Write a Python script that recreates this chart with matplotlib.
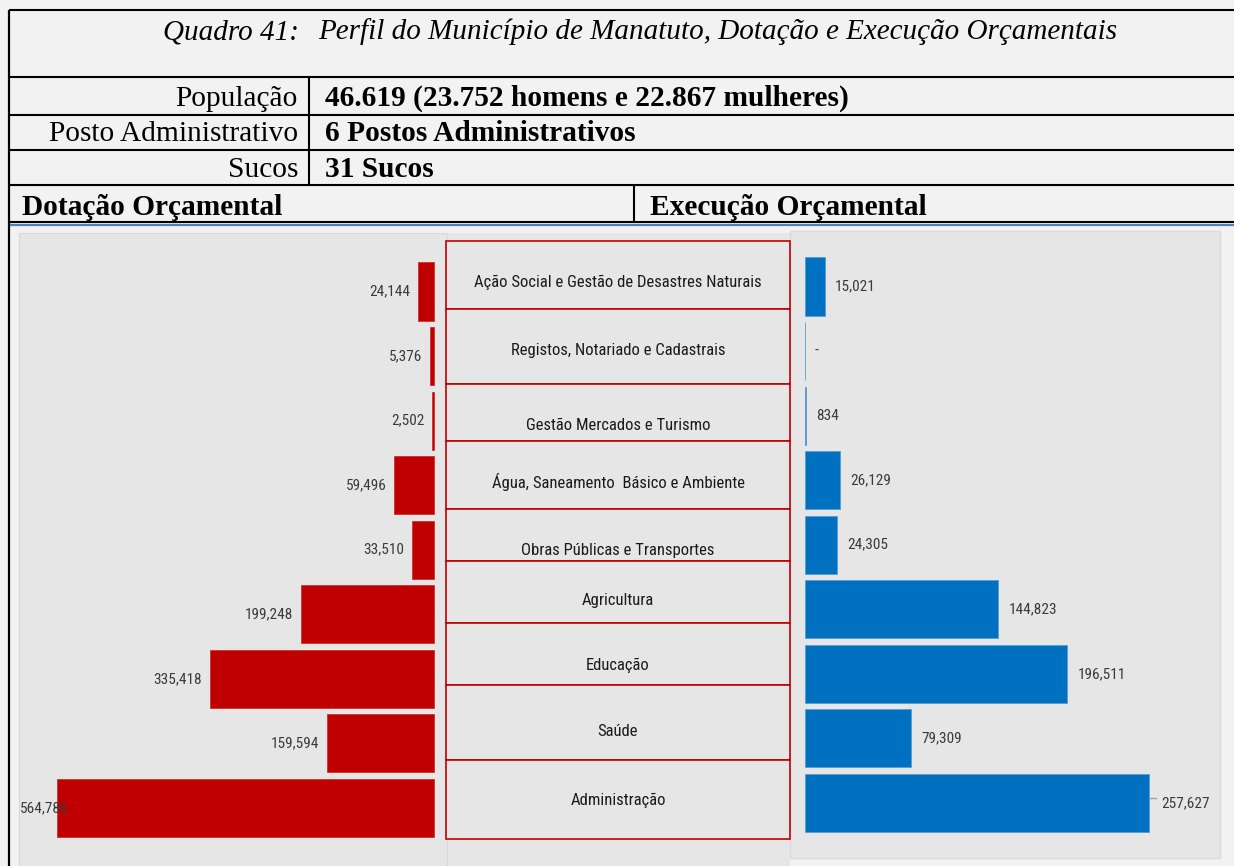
import matplotlib
matplotlib.use("Agg")
import matplotlib.pyplot as plt
from matplotlib.lines import Line2D
from matplotlib.patches import Rectangle
from matplotlib import font_manager as fm

# ---------------- data ----------------
categories = [
    "Ação Social e Gestão de Desastres Naturais",
    "Registos, Notariado e Cadastrais",
    "Gestão Mercados e Turismo",
    "Água, Saneamento  Básico e Ambiente",
    "Obras Públicas e Transportes",
    "Agricultura",
    "Educação",
    "Saúde",
    "Administração",
]
dotacao = [24144, 5376, 2502, 59496, 33510, 199248, 335418, 159594, 564786]
execucao = [15021, 0, 834, 26129, 24305, 144823, 196511, 79309, 257627]

title_num = "Quadro 41:"
title_txt = "Perfil do Município de Manatuto, Dotação e Execução Orçamentais"
row_labels = ["População", "Posto Administrativo", "Sucos"]
row_values = ["46.619 (23.752 homens e 22.867 mulheres)",
              "6 Postos Administrativos", "31 Sucos"]
left_header = "Dotação Orçamental"
right_header = "Execução Orçamental"

# ---------------- fonts ----------------
names = {f.name for f in fm.fontManager.ttflist}
narrow_kw = {}
for cand in ["Liberation Sans Narrow", "Arial Narrow", "Roboto Condensed",
             "Open Sans Condensed"]:
    if cand in names:
        narrow_kw = {"family": cand}
        break
if not narrow_kw:
    cond = [f for f in fm.fontManager.ttflist
            if f.name == "DejaVu Sans" and str(f.stretch) in ("condensed", "semi-condensed")]
    narrow_kw = {"family": "DejaVu Sans"}
    if cond:
        narrow_kw["fontstretch"] = "condensed"
serif = "Liberation Serif" if "Liberation Serif" in names else "DejaVu Serif"

# ---------------- layout helpers ----------------
W, H = 1234, 866
fig = plt.figure(figsize=(W / 100, H / 100), dpi=100, facecolor="#f2f2f2")


def fx(x):
    return x / W


def fy(y):
    return 1 - y / H


def hline(y, x0, x1, lw=1.5, color="black"):
    fig.add_artist(Line2D([fx(x0), fx(x1)], [fy(y), fy(y)], lw=lw, color=color,
                          solid_capstyle="butt"))


def vline(x, y0, y1, lw=1.5, color="black"):
    fig.add_artist(Line2D([fx(x), fx(x)], [fy(y0), fy(y1)], lw=lw, color=color,
                          solid_capstyle="butt"))


def ftext(x, y, s, **kw):
    fig.text(fx(x), fy(y), s, **kw)


# ---------------- table part ----------------
for y in [10, 77, 115, 150, 185, 222]:
    hline(y, 9, W)
hline(224.5, 9, W, lw=1.6, color="#4f81bd")
vline(9, 10, H, lw=1.6)
vline(309, 77, 185)
vline(634, 185, 222)

TS = 21.2
ftext(163, 39, title_num, fontsize=21.0, family=serif, style="italic", va="baseline")
ftext(318, 39, title_txt, fontsize=21.0, family=serif, style="italic", va="baseline")
for lab, val, yb in zip(row_labels, row_values, [106, 141, 177]):
    ftext(298, yb, lab, fontsize=TS, family=serif, ha="right", va="baseline")
    ftext(325, yb, val, fontsize=TS, family=serif, weight="bold", va="baseline")
ftext(22, 215, left_header, fontsize=TS, family=serif, weight="bold", va="baseline")
ftext(650, 215, right_header, fontsize=TS, family=serif, weight="bold", va="baseline")

# ---------------- chart backgrounds ----------------
PANEL = "#e6e6e6"
fig.add_artist(Rectangle((fx(19), fy(H)), fx(790 - 19), (H - 233) / H,
                         transform=fig.transFigure, facecolor=PANEL,
                         edgecolor="none", zorder=0))
fig.add_artist(Rectangle((fx(790), fy(858)), fx(1220 - 790), (858 - 231) / H,
                         transform=fig.transFigure, facecolor=PANEL,
                         edgecolor="#dadada", lw=1, zorder=0))
vline(19, 233, H, lw=0.8, color="#d8d8d8")
hline(233, 19, 447, lw=0.8, color="#d8d8d8")
vline(447, 233, H, lw=0.8, color="#d8d8d8")

RED = "#c00000"
BLUE = "#0070c0"
LABC = "#3a3a3a"
LFS = 11

# ---------------- left (Dotação) bars ----------------
axL_x0, axL_x1, axL_y0, axL_y1 = 19, 447, 233, 866
baseL, maxL_px = 434, 57
uppL = max(dotacao) / (baseL - maxL_px)
row0L, pitch = 291.5, 64.56
axL = fig.add_axes([fx(axL_x0), fy(axL_y1), fx(axL_x1 - axL_x0), (axL_y1 - axL_y0) / H])
axL.set_xlim((baseL - axL_x0) * uppL, -(axL_x1 - baseL) * uppL)
axL.set_ylim((axL_y1 - row0L) / pitch, (axL_y0 - row0L) / pitch)
ypos = list(range(len(categories)))
axL.barh(ypos, dotacao, height=0.9, color=RED, edgecolor="#d03030", lw=0.6)
xmaxL = axL.get_xlim()[0]
for yv, v in zip(ypos, dotacao):
    xt = v + 8 * uppL
    if xt + 45 * uppL > xmaxL:
        axL.text(xmaxL - 1 * uppL, yv, f"{v:,}", ha="left", va="center",
                 fontsize=LFS, color=LABC, zorder=5, **narrow_kw)
    else:
        axL.text(xt, yv, f"{v:,}", ha="right", va="center", fontsize=LFS,
                 color=LABC, **narrow_kw)
axL.axis("off")

# ---------------- right (Execução) bars ----------------
axR_x0, axR_x1, axR_y0, axR_y1 = 790, 1220, 231, 858
baseR, maxR_px = 805, 1149
uppR = max(execucao) / (maxR_px - baseR)
row0R = 286.5
axR = fig.add_axes([fx(axR_x0), fy(axR_y1), fx(axR_x1 - axR_x0), (axR_y1 - axR_y0) / H])
axR.set_xlim(-(baseR - axR_x0) * uppR, (axR_x1 - baseR) * uppR)
axR.set_ylim((axR_y1 - row0R) / pitch, (axR_y0 - row0R) / pitch)
axR.barh(ypos, execucao, height=0.9, color=BLUE, edgecolor="#5b9bd5", lw=0.6)
vmaxR = max(execucao)
for yv, v in zip(ypos, execucao):
    s = f"{v:,}" if v else "-"
    pad = 12 if v == vmaxR else 10
    if v == vmaxR:
        axR.plot([v + 1 * uppR, v + 7 * uppR], [yv - 0.08, yv - 0.08],
                 color="#a0a0a0", lw=1)
    axR.text(v + pad * uppR, yv, s, ha="left", va="center", fontsize=LFS,
             color=LABC, **narrow_kw)
axR.axis("off")

# ---------------- centre category boxes ----------------
box_edges = [241, 309, 384, 441, 509, 561, 623, 685, 760, 839]
text_y = [282, 350, 425, 482, 550, 601, 665, 731, 800]
for i, cat in enumerate(categories):
    y0, y1 = box_edges[i], box_edges[i + 1]
    fig.add_artist(Rectangle((fx(446), fy(y1)), fx(790 - 446), (y1 - y0) / H,
                             transform=fig.transFigure, facecolor=PANEL,
                             edgecolor=RED, lw=1.2, zorder=5 + 2 * i))
    fig.text(fx(618), fy(text_y[i]), cat, ha="center", va="center",
             fontsize=12, color="#1a1a1a", zorder=6 + 2 * i, **narrow_kw)

fig.savefig("out.png", dpi=100, facecolor=fig.get_facecolor())
